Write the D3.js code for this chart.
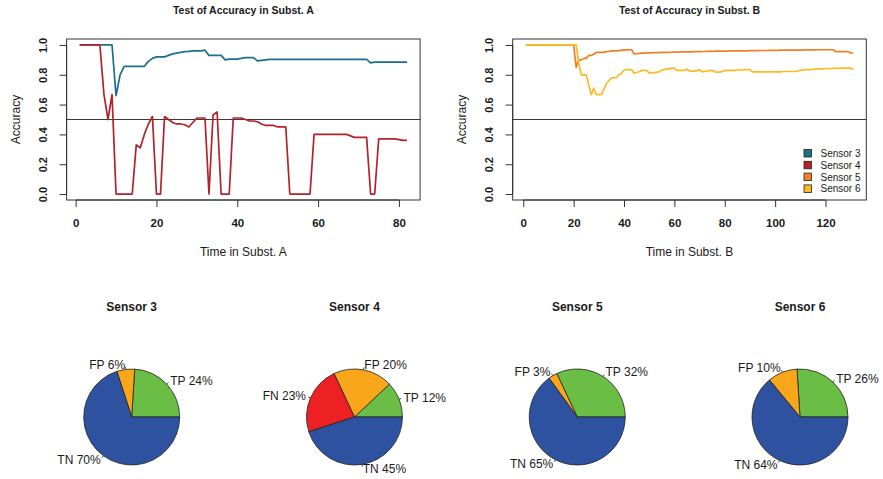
<!DOCTYPE html>
<html>
<head>
<meta charset="utf-8">
<script src="https://cdn.jsdelivr.net/npm/d3@7"></script>
<style>
body { margin: 0; background: #fff; }
text { font-family: "Liberation Sans", Arial, Helvetica, sans-serif; fill: #1a1a1a; }
</style>
</head>
<body>
<script>
// ---- data ----
var sensors = ["Sensor 3", "Sensor 4", "Sensor 5", "Sensor 6"];
var lineColors = ["#1c6e8d", "#b3232b", "#f47f20", "#fdba22"];

var sensor3 = [1,1,1,1,1,1,1,1,1, 0.66, 0.80, 0.857,
  0.857,0.857,0.857,0.857,0.857,
  0.89,0.91,0.92,0.92,0.92,0.93,0.94,0.945,0.95,0.955,0.957,0.96,0.96,0.96,0.965,
  0.93,0.93,0.93,0.93,0.90,0.905,0.905,0.905,0.91,0.915,0.915,0.915,0.893,0.897,0.90,0.903,
  0.903,0.903,0.903,0.903,0.903,0.903,0.903,0.903,0.903,0.903,0.903,0.903,
  0.903,0.903,0.903,0.903,0.903,0.903,0.903,0.903,0.903,0.903,0.903,0.903,
  0.88, 0.885,0.885,0.885,0.885,0.885,0.885,0.885,0.885,0.885];

var sensor4 = [1,1,1,1,1,1, 0.67,0.50,0.667, 0,0,0,0,0,
  0.33,0.31,0.40,0.47,0.52, 0,0,
  0.52,0.50,0.48,0.47,0.47,0.465,0.45,0.48,0.51,0.51,0.51,
  0, 0.53,0.55, 0,0,0,
  0.51,0.51,0.51,0.50,0.49,0.49,0.485,0.47,0.46,0.46,0.46,0.45,0.45,0.45,
  0,0,0,0,0,0,
  0.40,0.40,0.40,0.40,0.40,0.40,0.40,0.40,0.40,
  0.39,0.38,0.38,0.38,0.38,
  0,0,
  0.37,0.37,0.37,0.37,0.37,
  0.365,0.36,0.36];

var sensor5 = [1,1,1,1,1,1,1,1,1,1,1,1,1,1,1,1,1,1,1,1,
  0.85,0.90,0.90,0.91,0.91,0.93,0.93,0.94,0.95,0.95,
  0.95,0.95,0.955,0.957,
  0.96,0.96,0.96,0.962,0.965,0.965,0.967,0.968,
  0.968, 0.94,
  0.942,0.943,0.945,0.945,0.947,0.947,
  0.947,0.948,0.948,0.949,0.95,0.95,0.95,0.951,0.951,0.952,
  0.952,0.952,0.953,0.953,0.954,0.954,0.954,0.955,0.955,0.955,
  0.956,0.956,0.957,0.957,0.957,0.958,0.958,0.958,0.959,0.959,
  0.959,0.96,0.96,0.96,0.96,0.961,0.961,0.961,0.961,0.962,
  0.962,0.962,0.962,0.963,0.963,0.963,0.963,0.964,0.964,0.964,
  0.964,0.965,0.965,0.965,0.965,0.965,0.966,0.966,0.966,0.966,
  0.966,0.967,0.967,0.967,0.967,0.967,0.968,0.968,0.968,0.968,
  0.968,0.968,0.968,
  0.955,0.955,0.955,0.955,0.955,0.955,
  0.946,0.946];

var sensor6 = [1,1,1,1,1,1,1,1,1,1,1,1,1,1,1,1,1,1,1,1,1,
  0.88,0.80,0.80,0.80,0.73,0.667,0.71,0.667,0.667,0.667,
  0.70,0.74,0.76,0.78,0.78,0.78,0.80,0.81,0.83,0.835,
  0.835,0.835,0.81,0.815,0.82,0.83,0.83,0.83,0.81,0.815,
  0.815,0.818,0.82,0.83,0.835,0.84,0.84,0.845,0.845,0.83,
  0.83,0.83,0.83,0.837,0.825,0.825,0.825,0.828,0.835,0.82,
  0.823,0.825,0.828,0.83,0.82,0.818,0.818,0.822,0.828,
  0.83,0.83,0.83,0.83,0.832,0.832,0.832,0.834,0.834,0.834,
  0.82,0.82,0.82,0.82,0.82,0.82,0.82,0.82,0.82,0.82,
  0.82,0.82,0.822,0.822,0.822,0.822,0.822,0.822,0.825,0.83,
  0.832,0.834,0.834,0.835,0.836,0.838,0.84,0.84,0.84,0.842,
  0.842,0.842,0.843,0.843,0.843,0.844,0.844,0.845,0.845,0.845,
  0.834];

var yTicks = [0, 0.2, 0.4, 0.6, 0.8, 1.0];
var xTicksA = [0, 20, 40, 60, 80];
var xTicksB = [0, 20, 40, 60, 80, 100, 120];

var pieLabels = [["TP", "FP", "TN"], ["TP", "FP", "FN", "TN"], ["TP", "FP", "TN"], ["TP", "FP", "TN"]];
var pieValues = [[24, 6, 70], [12, 20, 23, 45], [32, 3, 65], [26, 10, 64]];
var pieColors = {TP: "#6abd45", FP: "#f9a61b", FN: "#ed2024", TN: "#2e52a0"};

// ---- page ----
var W = 883, H = 479;
var svg = d3.select("body").append("svg")
  .attr("width", W).attr("height", H)
  .attr("viewBox", "0 0 " + W + " " + H);

var fontStack = '"Liberation Sans", Arial, Helvetica, sans-serif';

// R style padding: 4% each side of the data range
function rlim(lo, hi) {
  var p = (hi - lo) * 0.04;
  return [lo - p, hi + p];
}

function linePanel(opts) {
  var x = d3.scaleLinear().domain(rlim(1, opts.n)).range(opts.xr);
  var y = d3.scaleLinear().domain(rlim(0, 1)).range([200, 39]);
  var g = svg.append("g");

  // reference line at 0.5
  g.append("line")
    .attr("x1", opts.xr[0]).attr("x2", opts.xr[1])
    .attr("y1", y(0.5)).attr("y2", y(0.5))
    .attr("stroke", "#3a3a3a").attr("stroke-width", 1);

  var line = d3.line().x(function(d, i) { return x(i + 1); }).y(function(d) { return y(d); });
  opts.series.forEach(function(s) {
    g.append("path")
      .datum(s.values)
      .attr("d", line)
      .attr("fill", "none")
      .attr("stroke", s.color)
      .attr("stroke-width", 1.7)
      .attr("stroke-linejoin", "round");
  });

  // box
  g.append("rect")
    .attr("x", opts.xr[0]).attr("y", 39)
    .attr("width", opts.xr[1] - opts.xr[0]).attr("height", 161)
    .attr("fill", "none").attr("stroke", "#333").attr("stroke-width", 1);

  // x axis
  var xa = g.append("g").attr("transform", "translate(0,200)")
    .call(d3.axisBottom(x).tickValues(opts.xTicks).tickSize(7).tickPadding(12).tickFormat(d3.format("d")));
  xa.select(".domain").remove();
  xa.append("line").attr("x1", x(opts.xTicks[0])).attr("x2", x(opts.xTicks[opts.xTicks.length - 1]))
    .attr("stroke", "#333");
  xa.selectAll(".tick line").attr("stroke", "#333");
  xa.selectAll(".tick text").attr("font-family", fontStack).attr("font-size", 11.5)
    .attr("font-weight", "bold").attr("fill", "#1a1a1a");

  // y axis
  var ya = g.append("g").attr("transform", "translate(" + opts.xr[0] + ",0)")
    .call(d3.axisLeft(y).tickValues(yTicks).tickSize(7).tickFormat(d3.format(".1f")));
  ya.select(".domain").remove();
  ya.append("line").attr("y1", y(0)).attr("y2", y(1)).attr("stroke", "#333");
  ya.selectAll(".tick line").attr("stroke", "#333");
  ya.selectAll(".tick text")
    .attr("x", null).attr("dy", null)
    .attr("transform", "translate(-24,0) rotate(-90)")
    .attr("text-anchor", "middle").attr("dominant-baseline", "central")
    .attr("font-family", fontStack).attr("font-size", 11)
    .attr("font-weight", "bold").attr("fill", "#1a1a1a");

  // labels
  g.append("text")
    .attr("transform", "translate(" + (opts.xr[0] - 51) + "," + ((39 + 200) / 2) + ") rotate(-90)")
    .attr("text-anchor", "middle").attr("dominant-baseline", "central")
    .attr("font-size", 12).text("Accuracy");
  g.append("text")
    .attr("x", (opts.xr[0] + opts.xr[1]) / 2).attr("y", 256)
    .attr("text-anchor", "middle").attr("font-size", 12).text(opts.xlab);
  g.append("text")
    .attr("x", (opts.xr[0] + opts.xr[1]) / 2).attr("y", 14)
    .attr("text-anchor", "middle").attr("font-size", 10.5).attr("font-weight", "bold")
    .text(opts.title);

  return {g: g, x: x, y: y};
}

linePanel({
  n: sensor3.length, xr: [66.6, 420.1], xTicks: xTicksA,
  title: "Test of Accuracy in Subst. A", xlab: "Time in Subst. A",
  series: [{values: sensor3, color: lineColors[0]}, {values: sensor4, color: lineColors[1]}]
});

var panelB = linePanel({
  n: sensor5.length, xr: [512.7, 866.3], xTicks: xTicksB,
  title: "Test of Accuracy in Subst. B", xlab: "Time in Subst. B",
  series: [{values: sensor5, color: lineColors[2]}, {values: sensor6, color: lineColors[3]}]
});

// legend
var leg = panelB.g.append("g").attr("transform", "translate(804,153)");
var legRows = leg.selectAll("g").data(sensors).enter().append("g")
  .attr("transform", function(d, i) { return "translate(0," + (i * 11.8) + ")"; });
legRows.append("rect")
  .attr("x", 0).attr("y", -3.5).attr("width", 7.5).attr("height", 7.5)
  .attr("fill", function(d, i) { return lineColors[i]; })
  .attr("stroke", "#222").attr("stroke-width", 0.8);
legRows.append("text")
  .attr("x", 16.5).attr("y", 0.5).attr("dominant-baseline", "central")
  .attr("font-size", 10).attr("fill", "#333").text(function(d) { return d; });

// ---- pies ----
var pieX = d3.scalePoint().domain(sensors).range([131.7, 800]);
var pieY = 417, R = 48;
var pie = d3.pie().sort(null).value(function(d) { return d.v; })
  .startAngle(Math.PI / 2).endAngle(Math.PI / 2 - 2 * Math.PI);
var arc = d3.arc().innerRadius(0).outerRadius(R);

sensors.forEach(function(name, k) {
  var data = pieLabels[k].map(function(l, i) { return {l: l, v: pieValues[k][i]}; });
  var g = svg.append("g").attr("transform", "translate(" + pieX(name) + "," + pieY + ")");
  var slices = pie(data);

  g.selectAll("path").data(slices).enter().append("path")
    .attr("d", arc)
    .attr("fill", function(d) { return pieColors[d.data.l]; })
    .attr("stroke", "#222").attr("stroke-width", 0.8);

  slices.forEach(function(s) {
    var a = (s.startAngle + s.endAngle) / 2;
    var sx = Math.sin(a), sy = -Math.cos(a);
    g.append("line")
      .attr("x1", R * sx).attr("y1", R * sy)
      .attr("x2", 1.05 * R * sx).attr("y2", 1.05 * R * sy)
      .attr("stroke", "#222").attr("stroke-width", 0.8);
    g.append("text")
      .attr("x", 1.1 * R * sx).attr("y", 1.1 * R * sy)
      .attr("text-anchor", sx >= 0 ? "start" : "end")
      .attr("dominant-baseline", "central")
      .attr("font-size", 12).attr("fill", "#222")
      .text(s.data.l + " " + s.data.v + "%");
  });

  svg.append("text")
    .attr("x", pieX(name)).attr("y", 311)
    .attr("text-anchor", "middle").attr("font-size", 12).attr("font-weight", "bold")
    .text(name);
});
</script>
</body>
</html>
